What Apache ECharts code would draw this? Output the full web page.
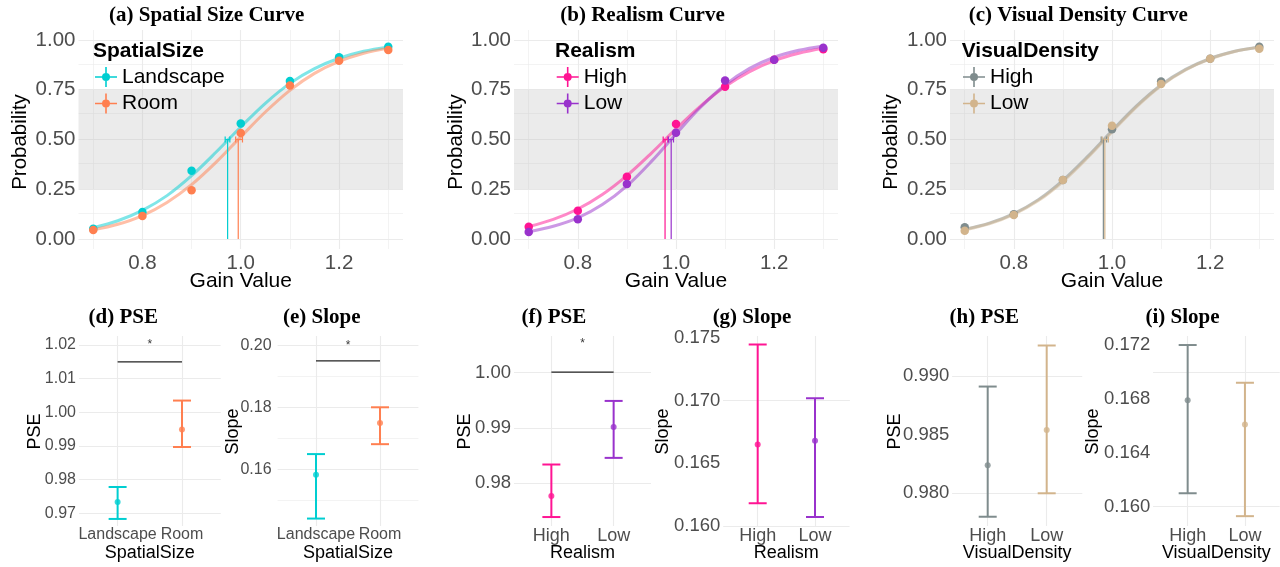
<!DOCTYPE html>
<html><head><meta charset="utf-8">
<script src="https://cdn.jsdelivr.net/npm/echarts@6/dist/echarts.min.js"></script>
<style>html,body{margin:0;padding:0;background:#fff}#c{width:1280px;height:567px}</style>
</head><body><div id="c"></div>
<script>
// ================= DATA =================
const gainLevels = [0.7, 0.8, 0.9, 1.0, 1.1, 1.2, 1.3];
const curveGain  = [0.70, 0.75, 0.80, 0.85, 0.90, 0.95, 1.00, 1.05, 1.10, 1.15, 1.20, 1.25, 1.30];
const gainTicks = [0.8, 1.0, 1.2];
const gainMinor = [0.7, 0.9, 1.1, 1.3];
const probTicks = [0, 0.25, 0.5, 0.75, 1.0];
const probMinor = [0.125, 0.375, 0.625, 0.875];

// (a) Spatial size
const landscapeProb  = [0.052, 0.136, 0.343, 0.580, 0.794, 0.913, 0.966];
const roomProb       = [0.045, 0.116, 0.245, 0.533, 0.771, 0.896, 0.950];
const landscapeCurve = [0.057, 0.092, 0.144, 0.218, 0.318, 0.437, 0.563, 0.682, 0.782, 0.856, 0.908, 0.943, 0.965];
const roomCurve      = [0.046, 0.074, 0.118, 0.184, 0.273, 0.386, 0.513, 0.638, 0.747, 0.832, 0.892, 0.933, 0.959];
// (b) Realism
const realHighProb  = [0.062, 0.142, 0.313, 0.578, 0.765, 0.900, 0.953];
const realLowProb   = [0.035, 0.099, 0.276, 0.534, 0.796, 0.900, 0.961];
const realHighCurve = [0.063, 0.099, 0.151, 0.224, 0.319, 0.432, 0.553, 0.668, 0.766, 0.841, 0.896, 0.933, 0.958];
const realLowCurve  = [0.037, 0.064, 0.106, 0.173, 0.267, 0.390, 0.528, 0.662, 0.774, 0.857, 0.913, 0.948, 0.970];
// (c) Visual density
const densHighProb  = [0.059, 0.124, 0.296, 0.551, 0.791, 0.905, 0.966];
const densLowProb   = [0.042, 0.121, 0.296, 0.569, 0.779, 0.905, 0.956];
const densHighCurve = [0.049, 0.080, 0.128, 0.198, 0.295, 0.414, 0.544, 0.669, 0.774, 0.852, 0.907, 0.943, 0.965];
const densLowCurve  = [0.047, 0.077, 0.124, 0.193, 0.289, 0.408, 0.538, 0.664, 0.770, 0.849, 0.905, 0.942, 0.964];

// Bottom panels
const spatialCats = ['Landscape', 'Room'];
const realismCats = ['High', 'Low'];
const densityCats = ['High', 'Low'];

const spatialPSE      = [0.9733, 0.9949];
const spatialPSELow   = [0.9683, 0.9897];
const spatialPSEHigh  = [0.9778, 1.0035];
const spatialSlope     = [0.1582, 0.1749];
const spatialSlopeLow  = [0.1441, 0.1681];
const spatialSlopeHigh = [0.1649, 0.1800];

const realismPSE      = [0.9777, 0.9902];
const realismPSELow   = [0.9739, 0.9846];
const realismPSEHigh  = [0.9834, 0.9949];
const realismSlope     = [0.1665, 0.1668];
const realismSlopeLow  = [0.1618, 0.1607];
const realismSlopeHigh = [0.1745, 0.1702];

const densityPSE      = [0.9824, 0.9854];
const densityPSELow   = [0.9780, 0.9800];
const densityPSEHigh  = [0.9891, 0.9926];
const densitySlope     = [0.1679, 0.1661];
const densitySlopeLow  = [0.1610, 0.1593];
const densitySlopeHigh = [0.1720, 0.1692];

// significance bars (y level of bar, y of star)
const sigSpatialPSE   = [1.015, 1.0200];
const sigSpatialSlope = [0.195, 0.2000];
const sigRealismPSE   = [1.0001, 1.0052];

// tick labels
const ticksD = [0.97, 0.98, 0.99, 1.00, 1.01, 1.02], minorD = [0.975, 0.985, 0.995, 1.005, 1.015];
const ticksE = [0.16, 0.18, 0.20],                    minorE = [0.15, 0.17, 0.19];
const ticksF = [0.98, 0.99, 1.00],                    minorF = [0.975, 0.985, 0.995, 1.005];
const ticksG = [0.160, 0.165, 0.170, 0.175],          minorG = [0.1625, 0.1675, 0.1725];
const ticksH = [0.980, 0.985, 0.990],                 minorH = [0.9775, 0.9825, 0.9875, 0.9925];
const ticksI = [0.160, 0.164, 0.168, 0.172],          minorI = [0.162, 0.166, 0.170];

// ================= STYLE / LAYOUT =================
const SANS = '"Liberation Sans", Arial, Helvetica, sans-serif';
const SERIF = '"Liberation Serif", "Times New Roman", serif';
const GRID_COLOR = '#ebebeb';
const TICK_COLOR = '#4d4d4d';
const C = {
  landscape: '#00CED1', room: '#FF7F50',
  realHigh: '#FF1493', realLow: '#9932CC',
  densHigh: '#7F8C8D', densLow: '#D2B48C'
};
const GLYPH = 'path://M0,9.2L22,9.2L22,10.8L0,10.8Z M10.2,0L11.8,0L11.8,20L10.2,20Z M15,10A4,4 0 1,1 7,10A4,4 0 1,1 15,10Z';

const grids = [], xAxes = [], yAxes = [], series = [], legends = [], graphics = [];

function addText(x, y, str, font, align, rotation, fill) {
  const el = {type: 'text', x: x, y: y, silent: true, z: 50,
    style: {text: str, font: font, fill: fill || '#000',
      textAlign: align || 'center', textVerticalAlign: 'middle',
      align: align || 'center', verticalAlign: 'middle'}};
  if (rotation) el.rotation = rotation;
  graphics.push(el);
}

function gridMarkLine(xMajor, xMinor, yMajor, yMinor) {
  const d = [];
  xMinor.forEach(v => d.push({xAxis: v, lineStyle: {width: 0.6}}));
  yMinor.forEach(v => d.push({yAxis: v, lineStyle: {width: 0.6}}));
  xMajor.forEach(v => d.push({xAxis: v, lineStyle: {width: 1.1}}));
  yMajor.forEach(v => d.push({yAxis: v, lineStyle: {width: 1.1}}));
  return {silent: true, z: 1, animation: false, symbol: ['none', 'none'],
    label: {show: false}, emphasis: {disabled: true},
    lineStyle: {color: GRID_COLOR, type: 'solid'}, data: d};
}

function renderHErr(params, api) {
  const y = api.value(0), lo = api.value(1), hi = api.value(2);
  const a = api.coord([lo, y]), b = api.coord([hi, y]);
  const st = {stroke: api.visual('color'), lineWidth: 1.2};
  const h = 3;
  return {type: 'group', children: [
    {type: 'line', shape: {x1: a[0], y1: a[1], x2: b[0], y2: b[1]}, style: st},
    {type: 'line', shape: {x1: a[0], y1: a[1] - h, x2: a[0], y2: a[1] + h}, style: st},
    {type: 'line', shape: {x1: b[0], y1: b[1] - h, x2: b[0], y2: b[1] + h}, style: st}
  ]};
}
function renderVErr(params, api) {
  const x = api.value(0), lo = api.value(1), hi = api.value(2);
  const a = api.coord([x, lo]), b = api.coord([x, hi]);
  const st = {stroke: api.visual('color'), lineWidth: 2};
  const w = 9;
  return {type: 'group', children: [
    {type: 'line', shape: {x1: a[0], y1: a[1], x2: b[0], y2: b[1]}, style: st},
    {type: 'line', shape: {x1: a[0] - w, y1: a[1], x2: a[0] + w, y2: a[1]}, style: st},
    {type: 'line', shape: {x1: b[0] - w, y1: b[1], x2: b[0] + w, y2: b[1]}, style: st}
  ]};
}

// ---------- top panels ----------
const topPanels = [
  {key: 'a', left: 78.5, width: 324.5, title: '(a) Spatial Size Curve', titleX: 206.7,
   legendTitle: 'SpatialSize', legendTitleX: 93, legendX: 95, yNameX: 20,
   groups: [
     {name: 'Landscape', color: C.landscape, prob: landscapeProb, curve: landscapeCurve, pse: spatialPSE[0], lo: spatialPSELow[0], hi: spatialPSEHigh[0]},
     {name: 'Room', color: C.room, prob: roomProb, curve: roomCurve, pse: spatialPSE[1], lo: spatialPSELow[1], hi: spatialPSEHigh[1]}]},
  {key: 'b', left: 514, width: 324, title: '(b) Realism Curve', titleX: 642.5,
   legendTitle: 'Realism', legendTitleX: 555, legendX: 556.7, yNameX: 456.7,
   groups: [
     {name: 'High', color: C.realHigh, prob: realHighProb, curve: realHighCurve, pse: realismPSE[0], lo: realismPSELow[0], hi: realismPSEHigh[0]},
     {name: 'Low', color: C.realLow, prob: realLowProb, curve: realLowCurve, pse: realismPSE[1], lo: realismPSELow[1], hi: realismPSEHigh[1]}]},
  {key: 'c', left: 950, width: 324, title: '(c) Visual Density Curve', titleX: 1078.3,
   legendTitle: 'VisualDensity', legendTitleX: 961.7, legendX: 963, yNameX: 891.7,
   groups: [
     {name: 'High', color: C.densHigh, prob: densHighProb, curve: densHighCurve, pse: densityPSE[0], lo: densityPSELow[0], hi: densityPSEHigh[0]},
     {name: 'Low', color: C.densLow, prob: densLowProb, curve: densLowCurve, pse: densityPSE[1], lo: densityPSELow[1], hi: densityPSEHigh[1]}]}
];

topPanels.forEach((p, gi) => {
  grids.push({left: p.left, top: 30, width: p.width, height: 219});
  xAxes.push({type: 'value', gridIndex: gi, min: 0.67, max: 1.33,
    axisLine: {show: false}, axisTick: {show: false}, splitLine: {show: false},
    axisLabel: {customValues: gainTicks, formatter: v => v.toFixed(1), fontSize: 20.5, fontFamily: SANS, color: TICK_COLOR, margin: 4}});
  yAxes.push({type: 'value', gridIndex: gi, min: -0.05, max: 1.05,
    axisLine: {show: false}, axisTick: {show: false}, splitLine: {show: false},
    axisLabel: {customValues: probTicks, formatter: v => v.toFixed(2), fontSize: 20.5, fontFamily: SANS, color: TICK_COLOR, margin: 3}});

  p.groups.forEach((g, k) => {
    const s = {type: 'line', name: p.key + '-' + g.name + '-curve', xAxisIndex: gi, yAxisIndex: gi, z: 3,
      data: curveGain.map((x, j) => [x, g.curve[j]]), smooth: 0.35,
      symbol: 'none', lineStyle: {color: g.color, width: 3, opacity: 0.5}, silent: true};
    if (k === 0) {
      s.markLine = gridMarkLine(gainTicks, gainMinor, probTicks, probMinor);
      s.markArea = {silent: true, z: 2, itemStyle: {color: 'rgba(190,190,190,0.3)'}, data: [[{yAxis: 0.25}, {yAxis: 0.75}]]};
    }
    series.push(s);
    series.push({type: 'line', name: p.key + '-' + g.name + '-pse', xAxisIndex: gi, yAxisIndex: gi, z: 4,
      data: [[g.pse, 0], [g.pse, 0.5]], symbol: 'none', lineStyle: {color: g.color, width: 1.2}, silent: true});
    series.push({type: 'custom', name: p.key + '-' + g.name + '-ci', xAxisIndex: gi, yAxisIndex: gi, z: 4,
      renderItem: renderHErr, itemStyle: {color: g.color}, encode: {x: [1, 2], y: 0},
      data: [[0.5, g.lo, g.hi]], silent: true});
  });
  p.groups.forEach(g => {
    series.push({type: 'scatter', name: p.key + '-' + g.name, xAxisIndex: gi, yAxisIndex: gi, z: 5,
      symbolSize: 8.5, itemStyle: {color: g.color, opacity: 1},
      data: gainLevels.map((x, j) => [x, g.prob[j]]), silent: true});
  });

  legends.push({left: p.legendX, top: 66.5, orient: 'vertical', padding: 0,
    itemWidth: 22, itemHeight: 20, itemGap: 5.5, selectedMode: false,
    formatter: n => n.split('-')[1],
    textStyle: {fontSize: 21, fontFamily: SANS, color: '#000'},
    data: p.groups.map(g => ({name: p.key + '-' + g.name, icon: GLYPH, itemStyle: {color: g.color, borderWidth: 0}}))});

  addText(p.titleX, 16, p.title, 'bold 21px ' + SERIF);
  addText(p.legendTitleX, 51.7, p.legendTitle, 'bold 21px ' + SANS, 'left');
  addText(p.left + p.width / 2, 281.7, 'Gain Value', '21px ' + SANS);
  addText(p.yNameX, 142, 'Probability', '20.5px ' + SANS, 'center', Math.PI / 2);
});

// ---------- bottom panels ----------
const bottomPanels = [
  {key: 'd', left: 79, width: 141.6, cats: spatialCats, colors: [C.landscape, C.room], mean: spatialPSE, lo: spatialPSELow, hi: spatialPSEHigh,
   yMin: 0.9662, yMax: 1.0227, ticks: ticksD, minor: minorD, dec: 2, title: '(d) PSE', titleX: 123.3, yName: 'PSE', yNameX: 35, xName: 'SpatialSize', sig: sigSpatialPSE, catFont: 16, tickFont: 16, tickMargin: 3},
  {key: 'e', left: 277.6, width: 140.8, cats: spatialCats, colors: [C.landscape, C.room], mean: spatialSlope, lo: spatialSlopeLow, hi: spatialSlopeHigh,
   yMin: 0.1417, yMax: 0.2030, ticks: ticksE, minor: minorE, dec: 2, title: '(e) Slope', titleX: 321.7, yName: 'Slope', yNameX: 233.3, xName: 'SpatialSize', sig: sigSpatialSlope, catFont: 16, tickFont: 16, tickMargin: 6},
  {key: 'f', left: 514, width: 137, cats: realismCats, colors: [C.realHigh, C.realLow], mean: realismPSE, lo: realismPSELow, hi: realismPSEHigh,
   yMin: 0.97228, yMax: 1.00664, ticks: ticksF, minor: minorF, dec: 2, title: '(f) PSE', titleX: 553.8, yName: 'PSE', yNameX: 465, xName: 'Realism', sig: sigRealismPSE, catFont: 18, tickFont: 18.5, tickMargin: 3},
  {key: 'g', left: 723.3, width: 126.1, cats: realismCats, colors: [C.realHigh, C.realLow], mean: realismSlope, lo: realismSlopeLow, hi: realismSlopeHigh,
   yMin: 0.15998, yMax: 0.17518, ticks: ticksG, minor: minorG, dec: 3, title: '(g) Slope', titleX: 752, yName: 'Slope', yNameX: 663.3, xName: 'Realism', sig: null, catFont: 18, tickFont: 18.5, tickMargin: 3},
  {key: 'h', left: 952.3, width: 129.8, cats: densityCats, colors: [C.densHigh, C.densLow], mean: densityPSE, lo: densityPSELow, hi: densityPSEHigh,
   yMin: 0.97721, yMax: 0.99341, ticks: ticksH, minor: minorH, dec: 3, title: '(h) PSE', titleX: 984.2, yName: 'PSE', yNameX: 895, xName: 'VisualDensity', sig: null, catFont: 18, tickFont: 18.5, tickMargin: 3},
  {key: 'i', left: 1153.3, width: 126, cats: densityCats, colors: [C.densHigh, C.densLow], mean: densitySlope, lo: densitySlopeLow, hi: densitySlopeHigh,
   yMin: 0.15857, yMax: 0.17267, ticks: ticksI, minor: minorI, dec: 3, title: '(i) Slope', titleX: 1182.5, yName: 'Slope', yNameX: 1093.3, xName: 'VisualDensity', sig: null, catFont: 18, tickFont: 18.5, tickMargin: 3}
];

bottomPanels.forEach((p, bi) => {
  const gi = bi + 3;
  grids.push({left: p.left, top: 336, width: p.width, height: 190});
  xAxes.push({type: 'value', gridIndex: gi, min: 0.4, max: 2.6,
    axisLine: {show: false}, axisTick: {show: false}, splitLine: {show: false},
    axisLabel: {customValues: [1, 2], formatter: v => p.cats[Math.round(v) - 1], fontSize: p.catFont, fontFamily: SANS, color: TICK_COLOR, margin: 1}});
  yAxes.push({type: 'value', gridIndex: gi, min: p.yMin, max: p.yMax,
    axisLine: {show: false}, axisTick: {show: false}, splitLine: {show: false},
    axisLabel: {customValues: p.ticks, formatter: v => v.toFixed(p.dec), fontSize: p.tickFont, fontFamily: SANS, color: TICK_COLOR, margin: p.tickMargin}});

  series.push({type: 'custom', name: p.key + '-err', xAxisIndex: gi, yAxisIndex: gi, z: 4, silent: true,
    renderItem: renderVErr, encode: {x: 0, y: [1, 2]},
    data: p.cats.map((c, j) => ({value: [j + 1, p.lo[j], p.hi[j]], itemStyle: {color: p.colors[j]}})),
    markLine: gridMarkLine([1, 2], [], p.ticks, p.minor)});
  series.push({type: 'scatter', name: p.key + '-mean', xAxisIndex: gi, yAxisIndex: gi, z: 5, silent: true,
    symbolSize: 6,
    data: p.cats.map((c, j) => ({value: [j + 1, p.mean[j]], itemStyle: {color: p.colors[j]}}))});
  if (p.sig) {
    series.push({type: 'line', name: p.key + '-sig', xAxisIndex: gi, yAxisIndex: gi, z: 4, silent: true,
      data: [[1, p.sig[0]], [2, p.sig[0]]], symbol: 'none', lineStyle: {color: '#222', width: 1.2}});
    series.push({type: 'scatter', name: p.key + '-star', xAxisIndex: gi, yAxisIndex: gi, z: 5, silent: true,
      symbolSize: 1, itemStyle: {color: 'rgba(0,0,0,0)'},
      label: {show: true, position: 'inside', formatter: '*', fontSize: 12, color: '#000', fontFamily: SANS},
      data: [[1.5, p.sig[1]]]});
  }
  addText(p.titleX, 318, p.title, 'bold 21px ' + SERIF);
  addText(p.left + p.width / 2, 553.3, p.xName, '18px ' + SANS);
  addText(p.yNameX, 431.5, p.yName, '18px ' + SANS, 'center', Math.PI / 2);
});

const chart = echarts.init(document.getElementById('c'), null, {renderer: 'canvas'});
chart.setOption({
  animation: false,
  backgroundColor: '#fff',
  grid: grids, xAxis: xAxes, yAxis: yAxes,
  legend: legends, series: series, graphic: graphics
});
</script></body></html>
